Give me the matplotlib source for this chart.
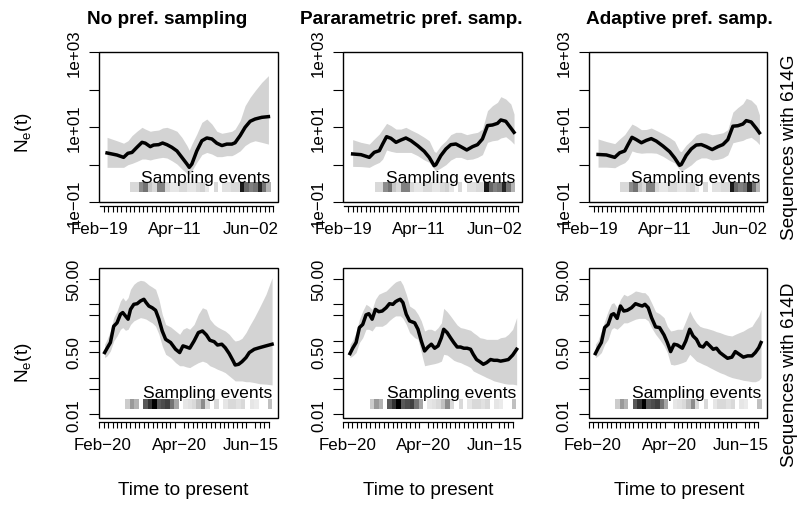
import numpy as np
import matplotlib
matplotlib.use('Agg')
import matplotlib.pyplot as plt
from matplotlib import transforms
from matplotlib.patches import Rectangle
from matplotlib.ticker import FixedLocator, NullLocator

plt.rcParams['font.family'] = ['Liberation Sans', 'DejaVu Sans']

# ---- data (days since first label date) ----
titles = ['No pref. sampling', 'Pararametric pref. samp.', 'Adaptive pref. samp.']
row_labels = ['Sequences with 614G', 'Sequences with 614D']

# 614G row (day 0 = Feb-19)
days_g_none = [5.2, 12.0, 16.6, 19.6, 22.4, 25.8, 29.3, 31.6, 35.0, 37.3, 40.8, 43.5, 46.5, 49.9, 53.4, 56.8, 60.3,
               61.9, 63.7, 67.1, 70.6, 74.0, 77.5, 80.9, 84.4, 87.8, 91.3, 93.5, 97.0, 100.4, 103.9, 107.3, 111.9, 116.5]
med_g_none = [2.03, 1.79, 1.55, 1.99, 2.1, 2.87, 3.9, 3.7, 2.99, 3.3, 3.38, 3.74, 3.38, 2.87, 2.3, 1.55, 1.03,
              0.84, 1.03, 2.3, 4.3, 5.1, 4.8, 3.7, 3.2, 3.5, 3.5, 3.8, 5.9, 9.8, 14.2, 16.3, 18.1, 18.9]
hi_g_none = [5.3, 4.3, 3.7, 4.3, 5.9, 7.7, 9.8, 8.8, 7.7, 8.0, 8.3, 9.4, 9.8, 8.8, 7.7, 5.3, 3.2,
             2.4, 3.5, 6.5, 13.3, 16.3, 12.0, 7.7, 6.8, 7.2, 7.7, 8.8, 14.8, 37, 62, 93, 155, 234]
lo_g_none = [0.84, 0.84, 0.84, 0.99, 1.07, 1.21, 1.40, 1.40, 1.32, 1.40, 1.49, 1.55, 1.49, 1.26, 1.03, 0.76, 0.58,
             0.54, 0.68, 1.14, 1.83, 2.1, 1.9, 1.62, 1.62, 1.72, 1.72, 1.9, 2.3, 3.2, 3.9, 4.3, 3.9, 3.5]

days_g_pref = [6.1, 11.8, 17.6, 21.0, 24.5, 26.8, 29.5, 32.5, 36.0, 39.4, 42.8, 46.3, 50.9, 55.5, 58.9, 62.3, 63.5,
               66.9, 70.4, 73.8, 77.3, 80.7, 84.8, 88.8, 92.2, 95.6, 99.1, 102.5, 106.0, 108.3, 111.7, 115.2, 117.4]
med_g_param = [1.91, 1.83, 1.55, 2.11, 2.34, 3.52, 5.52, 4.99, 3.90, 4.50, 5.09, 4.32, 3.18, 2.24, 1.55, 0.93, 0.99,
               1.72, 2.59, 3.38, 3.52, 2.99, 2.44, 2.99, 3.38, 4.79, 10.9, 11.3, 12.5, 15.4, 14.2, 9.4, 7.2]
hi_g_param = [4.6, 3.9, 3.5, 4.8, 6.5, 8.8, 12.5, 10.9, 8.8, 8.8, 9.8, 8.3, 6.8, 5.3, 4.3, 2.24, 2.1,
              3.2, 4.3, 6.25, 7.2, 7.2, 6.25, 6.8, 7.2, 8.8, 27.3, 37, 45.5, 64.4, 55.8, 41, 22.2]
lo_g_param = [0.89, 0.88, 0.84, 0.99, 1.14, 1.40, 2.44, 2.24, 2.1, 2.1, 2.1, 2.1, 1.72, 1.32, 1.14, 0.76, 0.68,
              0.81, 0.99, 1.32, 1.55, 1.55, 1.35, 1.40, 1.55, 1.83, 3.9, 4.3, 4.5, 5.1, 5.5, 4.3, 3.5]

med_g_adapt = [1.85, 1.80, 1.55, 2.05, 2.3, 3.4, 5.3, 4.6, 3.8, 4.4, 4.9, 4.2, 3.1, 2.2, 1.5, 0.95, 1.0,
               1.75, 2.6, 3.3, 3.4, 3.0, 2.5, 3.0, 3.4, 4.6, 10.5, 10.8, 12.0, 14.8, 13.6, 9.2, 7.0]
hi_g_adapt = [4.8, 4.1, 3.6, 4.8, 6.3, 8.5, 12.0, 10.5, 8.5, 8.6, 9.4, 8.1, 6.6, 5.2, 4.2, 2.3, 2.2,
              3.3, 4.4, 6.2, 7.0, 7.0, 6.2, 6.6, 7.0, 8.5, 25.0, 33.0, 42.0, 58.0, 52.0, 38.0, 21.0]
lo_g_adapt = [0.85, 0.85, 0.82, 0.97, 1.12, 1.38, 2.3, 2.1, 2.0, 2.05, 2.05, 2.0, 1.65, 1.28, 1.1, 0.74, 0.66,
              0.8, 0.98, 1.3, 1.5, 1.5, 1.32, 1.38, 1.5, 1.8, 3.8, 4.1, 4.4, 4.9, 5.3, 4.2, 3.4]

# 614D row (day 0 = Feb-20)
days_d_none = [1.3, 3.2, 5.8, 8.4, 11.0, 13.7, 15.5, 17.6, 19.7, 21.6, 24.2, 26.8, 29.4, 32.1, 33.9, 36.0, 38.6,
               41.3, 43.9, 46.5, 49.2, 53.1, 57.0, 60.2, 62.8, 65.5, 68.1, 71.5, 74.9, 78.1, 81.2, 83.9, 87.3,
               89.9, 93.3, 96.0, 99.1, 102.3, 103.8, 106.5, 109.1, 112.3, 114.9, 118.8, 122.8, 128.0, 132.8]
med_d_none = [0.48, 0.63, 0.90, 2.5, 3.1, 5.3, 5.9, 4.8, 3.9, 7.2, 9.9, 10.3, 12.2, 13.6, 11.0, 8.9, 8.0,
              6.8, 3.9, 1.86, 1.10, 0.90, 0.59, 0.48, 0.73, 0.68, 0.63, 0.99, 1.68, 1.86, 1.45, 1.04, 0.95,
              0.77, 0.81, 0.65, 0.45, 0.28, 0.22, 0.23, 0.27, 0.35, 0.48, 0.59, 0.65, 0.73, 0.81]
hi_d_none = [0.81, 1.10, 1.86, 4.3, 6.5, 12.2, 15.1, 12.2, 15.1, 25.4, 34.8, 41.1, 44.6, 42.9, 38.6, 33.4, 29.4,
             25.4, 13.6, 5.3, 2.8, 2.4, 1.86, 1.51, 2.07, 2.3, 2.07, 2.8, 5.3, 8.0, 7.2, 3.9, 2.8,
             2.4, 2.07, 1.86, 1.51, 1.10, 0.99, 1.04, 1.17, 1.68, 2.5, 4.3, 8.0, 18.6, 52.8]
lo_d_none = [0.35, 0.39, 0.53, 0.99, 1.36, 2.07, 2.3, 1.94, 2.07, 2.8, 3.5, 3.9, 4.3, 4.1, 3.9, 3.5, 3.1,
             2.5, 1.51, 0.73, 0.43, 0.35, 0.255, 0.21, 0.21, 0.195, 0.187, 0.22, 0.255, 0.28, 0.255, 0.21, 0.187,
             0.168, 0.151, 0.136, 0.111, 0.090, 0.081, 0.081, 0.081, 0.077, 0.077, 0.073, 0.068, 0.066, 0.063]

days_d_param = [2.1, 4.2, 6.9, 9.5, 12.1, 14.7, 16.9, 19.5, 22.1, 24.7, 27.4, 30.5, 33.1, 35.8, 37.9, 39.7, 41.6,
                43.7, 46.3, 48.9, 52.9, 55.5, 58.1, 60.7, 63.4, 66.0, 68.6, 71.3, 73.9, 75.7, 78.4, 81.0, 83.6,
                86.3, 88.9, 91.5, 94.1, 96.8, 98.9, 101.5, 104.1, 106.8, 109.4, 112.5, 115.2, 117.8, 120.4,
                123.8, 126.5, 129.9, 133.0]
med_d_param = [0.45, 0.63, 0.90, 2.3, 2.8, 5.1, 5.5, 3.9, 7.2, 6.25, 6.5, 8.0, 10.3, 9.9, 11.7, 12.7, 13.6,
               11.0, 5.3, 3.5, 3.1, 2.07, 0.99, 0.53, 0.68, 0.81, 0.63, 0.73, 1.22, 2.07, 1.68, 1.22, 0.90,
               0.68, 0.68, 0.63, 0.63, 0.59, 0.43, 0.31, 0.27, 0.23, 0.255, 0.31, 0.295, 0.295, 0.28,
               0.295, 0.31, 0.41, 0.59]
hi_d_param = [0.81, 1.04, 1.68, 3.9, 6.5, 9.9, 8.9, 7.2, 13.6, 18.6, 20.6, 22.9, 28.2, 34.8, 40.3, 42.9, 44.6,
              33.4, 18.6, 8.9, 7.2, 5.3, 3.5, 1.86, 2.07, 2.07, 1.86, 2.3, 3.1, 7.7, 6.25, 4.8, 3.6,
              2.7, 2.3, 2.2, 2.07, 1.94, 1.68, 1.45, 1.22, 1.17, 1.10, 1.10, 1.10, 1.10, 1.22,
              1.28, 1.51, 2.07, 4.3]
lo_d_param = [0.35, 0.39, 0.48, 0.90, 1.22, 2.07, 2.07, 1.86, 2.5, 2.5, 2.5, 2.9, 3.6, 4.3, 4.8, 4.8, 4.8,
              4.1, 2.8, 1.68, 1.22, 1.10, 0.48, 0.21, 0.22, 0.23, 0.24, 0.255, 0.28, 0.43, 0.41, 0.35, 0.295,
              0.27, 0.255, 0.23, 0.21, 0.187, 0.151, 0.136, 0.123, 0.111, 0.10, 0.090, 0.081, 0.077, 0.073,
              0.068, 0.066, 0.066, 0.063]

days_d_adapt = [2.1, 4.2, 6.8, 9.4, 12.1, 14.7, 16.5, 19.2, 21.8, 24.4, 27.1, 30.5, 33.6, 36.3, 38.9, 41.0,
                43.6, 46.2, 49.4, 52.5, 56.0, 58.6, 61.2, 63.9, 66.5, 70.4, 73.1, 76.2, 78.8, 81.5, 84.1, 86.7,
                89.4, 92.0, 94.6, 97.2, 99.9, 103.3, 105.9, 109.3, 112.0, 115.1, 118.3, 121.7, 125.1, 127.7,
                130.4, 132.2]
med_d_adapt = [0.45, 0.63, 0.90, 2.3, 2.8, 5.1, 5.5, 4.1, 8.9, 6.5, 6.8, 8.0, 10.3, 9.5, 8.9, 9.9,
               8.0, 4.3, 2.4, 2.3, 1.45, 0.90, 0.51, 0.81, 0.77, 0.63, 0.99, 2.07, 1.36, 1.10, 0.73, 0.68,
               0.90, 0.73, 0.59, 0.63, 0.48, 0.39, 0.335, 0.36, 0.51, 0.43, 0.36, 0.39, 0.39, 0.48,
               0.65, 0.90]
hi_d_adapt = [0.81, 1.04, 1.86, 3.5, 6.5, 10.3, 11.0, 8.0, 13.6, 18.6, 16.7, 19.4, 22.9, 21.9, 20.6, 20.6,
              16.7, 11.0, 6.25, 5.5, 4.3, 2.5, 1.86, 1.94, 2.07, 2.07, 3.5, 6.5, 4.3, 3.1, 2.5, 2.3,
              2.2, 2.07, 1.94, 1.78, 1.68, 1.51, 1.42, 1.36, 1.51, 1.68, 1.86, 2.2, 2.5, 3.5,
              4.8, 7.2]
lo_d_adapt = [0.35, 0.39, 0.48, 0.81, 1.10, 2.07, 2.3, 2.07, 2.5, 3.1, 3.1, 3.5, 3.9, 4.1, 4.1, 4.1,
              3.5, 2.3, 1.51, 1.10, 0.73, 0.48, 0.23, 0.22, 0.23, 0.255, 0.28, 0.43, 0.35, 0.28, 0.255, 0.23,
              0.21, 0.187, 0.168, 0.151, 0.136, 0.123, 0.111, 0.10, 0.095, 0.090, 0.084, 0.081, 0.077, 0.077,
              0.084, 0.10]

# sampling event shading (0 = black, 1 = white) and their time span
samp_g = [0.85, 0.85, 0.55, 0.45, 0.78, 0.85, 0.5, 0.5, 0.85, 0.9, 0.9, 0.85, 0.85, 0.9, 0.9, 0.85,
          0.82, 0.9, 1.0, 0.85, 1.0, 0.88, 0.88, 0.85, 0.85, 0.1, 0.4, 0.5, 0.45, 0.15, 0.45, 0.7]
samp_g_span = (21.2, 118.1)
samp_d = [0.8, 0.6, 0.7, 1.0, 0.35, 0.2, 0.0, 0.35, 0.3, 0.25, 0.45, 0.65, 1.0, 0.9, 0.88, 0.85, 0.75,
          0.55, 0.85, 1.0, 0.85, 1.0, 0.9, 0.85, 0.85, 0.88, 0.85, 1.0, 0.9, 0.92, 1.0, 1.0, 0.75]
samp_d_span = (17.6, 132.7)

# axis labels
g_date_pos = [0, 52, 104]
g_date_lab = ['Feb\u221219', 'Apr\u221211', 'Jun\u221202']
d_date_pos = [0, 60, 116]
d_date_lab = ['Feb\u221220', 'Apr\u221220', 'Jun\u221215']
g_ytick = [0.1, 1, 10, 100, 1000]
g_ylab = ['1e\u221201', '', '1e+01', '', '1e+03']
d_ytick = [0.01, 0.05, 0.1, 0.5, 1, 5, 10, 50]
d_ylab = ['0.01', '', '', '0.50', '', '', '', '50.00']

rows = [
    dict(panels=[(days_g_none, med_g_none, lo_g_none, hi_g_none),
                 (days_g_pref, med_g_param, lo_g_param, hi_g_param),
                 (days_g_pref, med_g_adapt, lo_g_adapt, hi_g_adapt)],
         samp=samp_g, span=samp_g_span, xlim=(-0.35, 122.9), ylim=(0.1, 1000),
         minor=np.arange(0, 121, 3), dpos=g_date_pos, dlab=g_date_lab, yt=g_ytick, yl=g_ylab,
         top=53, bottom=203, strip=(0.067, 0.133), txt_y=0.136),
    dict(panels=[(days_d_none, med_d_none, lo_d_none, hi_d_none),
                 (days_d_param, med_d_param, lo_d_param, hi_d_param),
                 (days_d_adapt, med_d_adapt, lo_d_adapt, hi_d_adapt)],
         samp=samp_d, span=samp_d_span, xlim=(-3.15, 137.2), ylim=(0.0079, 96.8),
         minor=np.arange(-3, 130.5, 3.5), dpos=d_date_pos, dlab=d_date_lab, yt=d_ytick, yl=d_ylab,
         top=269, bottom=419, strip=(0.062, 0.127), txt_y=0.14),
]

W, H = 799, 506
lefts = [99, 343.3, 588.7]
width = 178.7

fig = plt.figure(figsize=(W / 100, H / 100), dpi=100)

for r, row in enumerate(rows):
    for c, (d, med, lo, hi) in enumerate(row['panels']):
        ax = fig.add_axes([lefts[c] / W, 1 - row['bottom'] / H, width / W,
                           (row['bottom'] - row['top']) / H])
        ax.fill_between(d, lo, hi, color='#d3d3d3', lw=0)
        ax.plot(d, med, color='black', lw=2.5)
        ax.set_yscale('log')

        # sampling events strip
        trans = transforms.blended_transform_factory(ax.transData, ax.transAxes)
        edges = np.linspace(row['span'][0], row['span'][1], len(row['samp']) + 1)
        ax.pcolormesh(edges, list(row['strip']), np.array([row['samp']]), cmap='gray',
                      vmin=0, vmax=1, transform=trans, antialiased=False)
        ax.text(row['span'][1], row['txt_y'], 'Sampling events', transform=trans,
                ha='right', va='baseline', fontsize=12.6)

        ax.set_xlim(*row['xlim'])
        ax.set_ylim(*row['ylim'])

        # box + detached R-style x axis
        ax.add_patch(Rectangle((0, 0), 1, 1, transform=ax.transAxes, fill=False,
                               ec='black', lw=1.0, clip_on=False, zorder=5))
        for s in ['top', 'right', 'left']:
            ax.spines[s].set_visible(False)
        ax.spines['bottom'].set_position(('outward', 3))
        ax.spines['bottom'].set_bounds(row['minor'][0], row['minor'][-1])
        ax.spines['bottom'].set_linewidth(0.9)

        ax.xaxis.set_major_locator(FixedLocator(row['dpos']))
        ax.set_xticklabels(row['dlab'])
        ax.xaxis.set_minor_locator(FixedLocator(row['minor']))
        ax.tick_params(axis='x', which='major', length=0, pad=10.5, labelsize=12.2)
        ax.tick_params(axis='x', which='minor', length=4.5, width=0.8, direction='out')

        ax.yaxis.set_major_locator(FixedLocator(row['yt']))
        ax.yaxis.set_minor_locator(NullLocator())
        ax.set_yticklabels(row['yl'], rotation=90, va='center', ha='right')
        ax.tick_params(axis='y', which='major', length=7, width=0.8, direction='out',
                       pad=5.5, labelsize=12.2)

        if r == 0:
            tx = [167, 411, 679][c]
            fig.text(tx / W, 1 - 24 / H, titles[c], ha='center', va='baseline',
                     fontsize=13.7, fontweight='bold')
        else:
            tx = [183, 428, 679][c]
            fig.text(tx / W, 1 - 495 / H, 'Time to present', ha='center', va='baseline',
                     fontsize=13.7)

fig.text(23 / W, 1 - 133 / H, r'N$_{\mathregular{e}}$(t)', rotation=90, ha='center', va='center', fontsize=13.7)
fig.text(23 / W, 1 - 363 / H, r'N$_{\mathregular{e}}$(t)', rotation=90, ha='center', va='center', fontsize=13.7)
fig.text(790 / W, 1 - 147 / H, row_labels[0], rotation=90, ha='center', va='center', fontsize=13.7)
fig.text(790 / W, 1 - 375 / H, row_labels[1], rotation=90, ha='center', va='center', fontsize=13.7)

fig.savefig('out.png', dpi=100)
